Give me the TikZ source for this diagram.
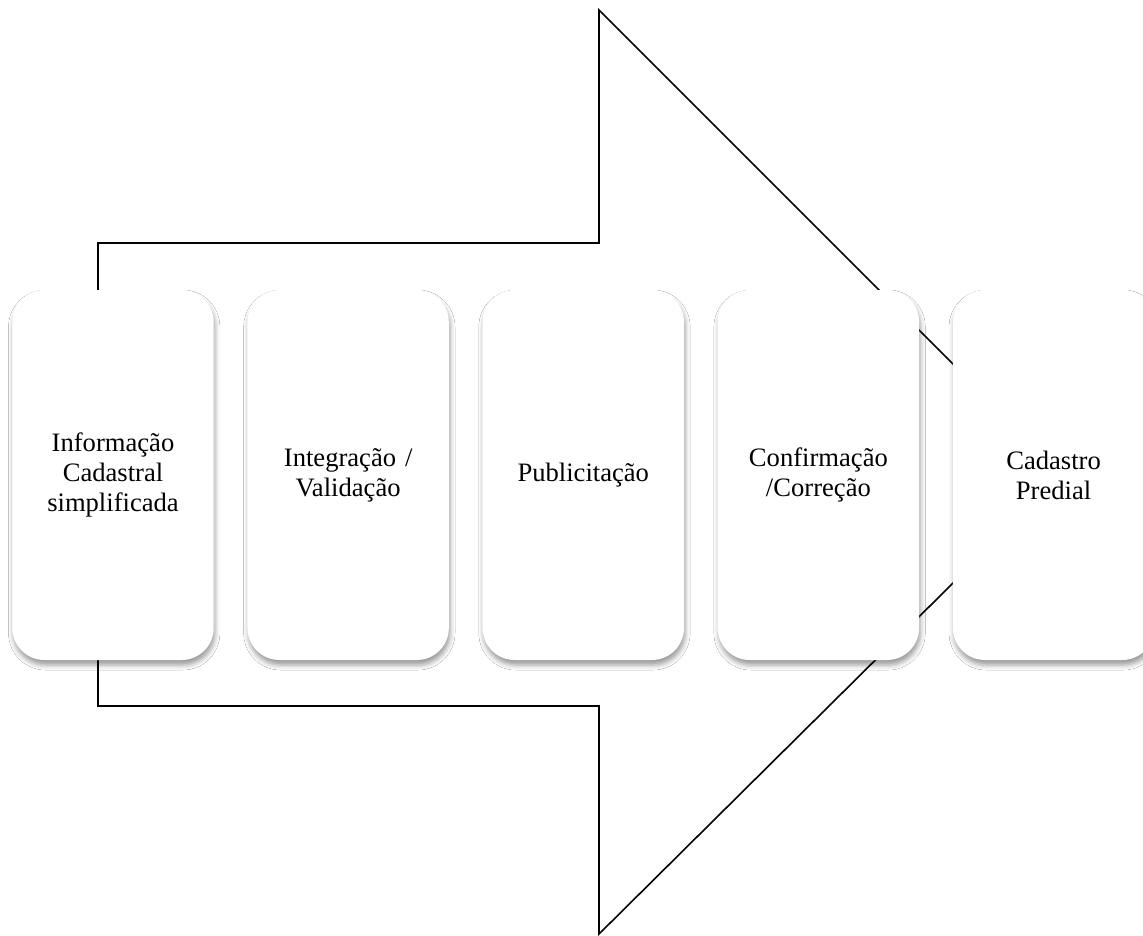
\documentclass[tikz,border=0pt]{standalone}
\usepackage{fontspec}
\setmainfont{Liberation Serif}
\usetikzlibrary{positioning,shadows.blur}

\begin{document}
\begin{tikzpicture}[x=0.5pt,y=-0.5pt,node distance=16.5pt,
  stage/.style={fill=white,rounded corners=16pt,minimum width=100pt,minimum height=185pt,
    text width=94pt,align=center,font=\fontsize{13.3}{15}\selectfont,
    blur shadow={shadow xshift=0.6pt,shadow yshift=-2.5pt,shadow blur radius=2.5pt,shadow opacity=40}}]
  \useasboundingbox[fill=white] (0,0) rectangle (1143,935);
  % big arrow behind the stages
  \draw[line width=0.8pt,fill=white] (98,243) -- (599,243) -- (599,10) -- (1063,474)
    -- (599,934) -- (599,706) -- (98,706) -- cycle;
  \node[stage] (info) at (113,475) {Informação\\Cadastral\\simplificada};
  \node[stage,right=of info] (integ) {Integração /\\Validação};
  \node[stage,right=of integ] (publ) {Publicitação};
  \node[stage,right=of publ] (conf) {Confirmação\\/Correção};
  \node[stage,right=of conf] (cad) {Cadastro\\Predial};
\end{tikzpicture}
\end{document}
